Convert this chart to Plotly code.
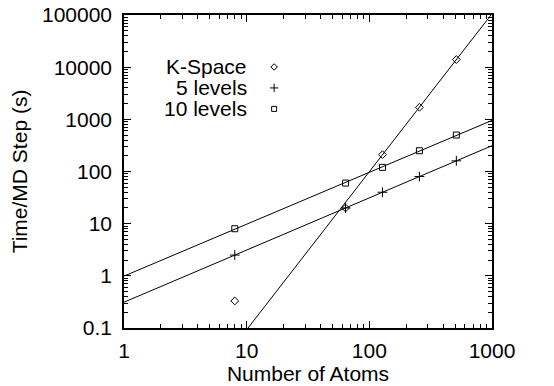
import numpy as np
import plotly.graph_objects as go

# Data
atoms = [8, 64, 128, 256, 512]
kspace = [0.33, 20, 210, 1700, 14000]
levels5 = [2.5, 20, 40, 80, 160]
levels10 = [8, 60, 120, 250, 500]
series_names = ["K-Space", "5 levels", "10 levels"]
x_ticks = [1, 10, 100, 1000]
y_ticks = [0.1, 1, 10, 100, 1000, 10000, 100000]

FONT = "Liberation Sans, Arial, Helvetica, sans-serif"
FS = 21

def powerfit(x, y):
    b, a = np.polyfit(np.log10(x), np.log10(y), 1)
    return a, b

def minor_vals(lo_exp, hi_exp):
    return [m * 10.0 ** e for e in range(lo_exp, hi_exp) for m in range(2, 10)]

xline = np.array([1.0, 1000.0])
fits = [
    powerfit(atoms[2:], kspace[2:]),
    powerfit(atoms, levels5),
    powerfit(atoms, levels10),
]
series = [kspace, levels5, levels10]
symbols = ["diamond-open", "cross-thin-open", "square-open"]
sizes = [6, 7, 6]

fig = go.Figure()
for (a, b), ys, sym, sz, nm in zip(fits, series, symbols, sizes, series_names):
    fig.add_trace(go.Scatter(x=xline, y=10 ** a * xline ** b, mode="lines",
                             line=dict(color="black", width=1), showlegend=False,
                             hoverinfo="skip"))
    fig.add_trace(go.Scatter(x=atoms, y=ys, mode="markers", name=nm,
                             marker=dict(symbol=sym, size=sz, color="black",
                                         line=dict(color="black", width=1)),
                             showlegend=False, cliponaxis=False))

# Custom legend (text right-aligned, symbol on the right, gnuplot style)
leg_y = [0.834, 0.767, 0.700]
for nm, sym, sz, yy in zip(series_names, symbols, sizes, leg_y):
    fig.add_annotation(x=0.34, y=yy, xref="paper", yref="paper", text=nm,
                       showarrow=False, xanchor="right", yanchor="middle",
                       font=dict(family=FONT, size=FS, color="black"))
    fig.add_trace(go.Scatter(x=[0.408], y=[yy], xaxis="x2", yaxis="y2",
                             mode="markers", showlegend=False, hoverinfo="skip",
                             marker=dict(symbol=sym, size=sz - 1, color="black",
                                         line=dict(color="black", width=1))))

axis_common = dict(
    type="log", showline=True, linecolor="black", linewidth=1.5,
    mirror="allticks", ticks="inside", ticklen=7, tickwidth=1, tickcolor="black",
    showgrid=False, zeroline=False, automargin=False, ticklabeloverflow="allow",
    tickfont=dict(family=FONT, size=FS, color="black"),
)

fig.update_layout(
    width=554, height=386,
    margin=dict(l=124, r=62, t=15, b=58),
    paper_bgcolor="white", plot_bgcolor="white",
    xaxis=dict(axis_common, range=[0, 3], tickvals=x_ticks,
               ticktext=[str(v) for v in x_ticks], ticklabelstandoff=3,
               minor=dict(ticks="inside", ticklen=4, tickwidth=1, tickcolor="black",
                          tickvals=minor_vals(0, 3), showgrid=False),
               title=dict(text="Number of Atoms", standoff=0,
                          font=dict(family=FONT, size=FS, color="black"))),
    yaxis=dict(axis_common, range=[-1, 5], tickvals=y_ticks,
               ticktext=[f"{v:g}" for v in y_ticks],
               ticklabelstandoff=6,
               minor=dict(ticks="inside", ticklen=4, tickwidth=1, tickcolor="black",
                          tickvals=minor_vals(-1, 5), showgrid=False),
               title=dict(text="Time/MD Step (s)", standoff=9,
                          font=dict(family=FONT, size=FS, color="black"))),
    xaxis2=dict(domain=[0, 1], range=[0, 1], overlaying="x", visible=False),
    yaxis2=dict(domain=[0, 1], range=[0, 1], overlaying="y", visible=False),
    font=dict(family=FONT, size=FS, color="black"),
)

fig.write_html("out.html", config={"displayModeBar": False},
               post_script="document.body.style.margin='0';")
